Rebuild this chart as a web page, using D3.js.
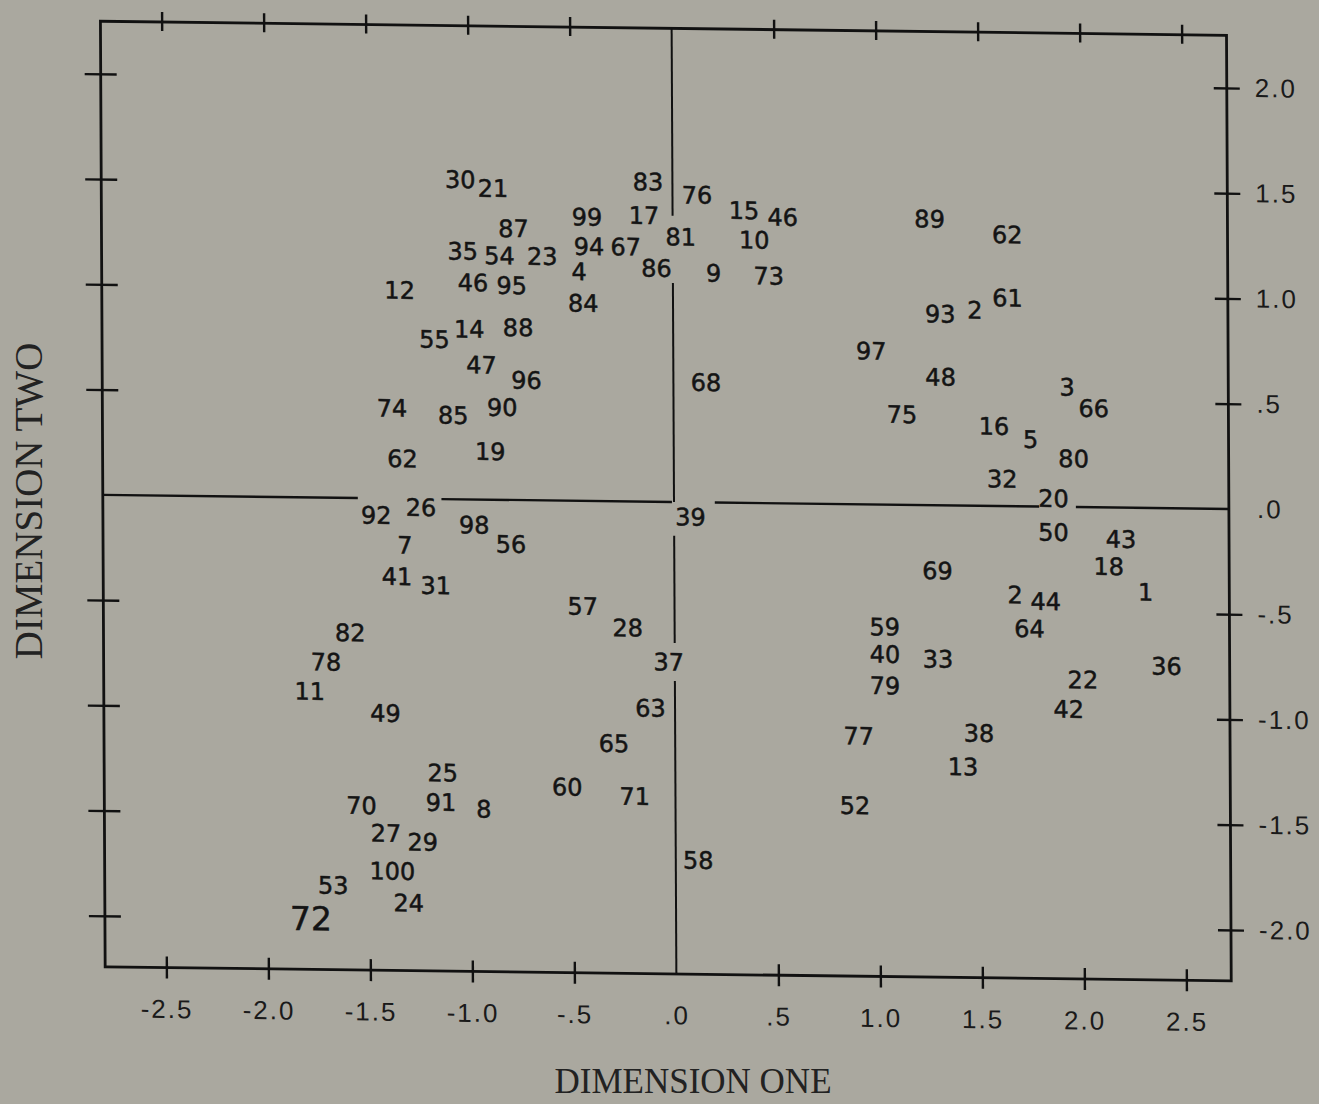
<!DOCTYPE html>
<meta charset="utf-8">
<title>Dimension one vs dimension two</title>
<body>
<script src="https://cdn.jsdelivr.net/npm/d3@7"></script>
<style>
html, body {
    margin: 0;
    background: #aaa89f;
}

svg {
    display: block;
}

.point {
    font-family: "DejaVu Sans", sans-serif;
    fill: #141414;
    stroke: #141414;
    stroke-width: 0.5px;
}

.tick text {
    font-family: "Liberation Sans", sans-serif;
    font-size: 26px;
    letter-spacing: 2px;
    fill: #1a1a1a;
}

.title {
    font-family: "Liberation Serif", serif;
    fill: #222;
}
</style>
<script>
var width = 1319,
    height = 1104;

// one entry per stimulus: its number, then its two coordinates
var pointIds = ["30", "21", "83", "87", "99", "17", "35", "54", "23", "94",
                "67", "4", "86", "46", "95", "12", "84", "55", "14", "88",
                "47", "96", "74", "85", "90", "19", "62",
                "76", "15", "46", "81", "10", "9", "73", "68", "89",
                "62", "93", "2", "61", "97", "48", "3", "66", "75",
                "16", "5", "80", "32", "20",
                "39", "50", "43", "18", "69", "1", "2", "44", "59",
                "64", "40", "33", "36", "22", "79", "42", "77", "38",
                "13", "52", "58",
                "92", "26", "98", "56", "7", "41", "31", "57", "28",
                "82", "78", "37", "11", "49", "63", "65", "25", "60",
                "71", "70", "91", "8", "27", "29", "100", "53", "24", "72"];

var dimOne = [-1.04, -0.88, -0.12, -0.78, -0.42, -0.14, -1.03, -0.85, -0.64, -0.41,
              -0.23, -0.46, -0.08, -0.98, -0.79, -1.34, -0.44, -1.17, -1.00, -0.76,
              -0.94, -0.72, -1.38, -1.08, -0.84, -0.90, -1.33,
              0.12, 0.35, 0.54, 0.04, 0.40, 0.20, 0.47, 0.16, 1.26,
              1.64, 1.31, 1.48, 1.64, 0.97, 1.31, 1.93, 2.06, 1.12,
              1.57, 1.75, 1.96, 1.61, 1.86,
              0.08, 1.86, 2.19, 2.13, 1.29, 2.31, 1.67, 1.82, 1.03,
              1.74, 1.03, 1.29, 2.41, 2.00, 1.03, 1.93, 0.90, 1.49,
              1.41, 0.88, 0.11,
              -1.46, -1.24, -0.98, -0.80, -1.32, -1.36, -1.17, -0.45, -0.23,
              -1.59, -1.71, -0.03, -1.79, -1.42, -0.12, -0.30, -1.14, -0.53,
              -0.20, -1.54, -1.15, -0.94, -1.42, -1.24, -1.39, -1.68, -1.31, -1.79];

var dimTwo = [1.52, 1.48, 1.52, 1.29, 1.35, 1.36, 1.18, 1.16, 1.16, 1.21,
              1.21, 1.09, 1.11, 1.03, 1.02, 0.99, 0.94, 0.76, 0.81, 0.82,
              0.64, 0.57, 0.43, 0.40, 0.44, 0.23, 0.19,
              1.46, 1.39, 1.36, 1.26, 1.25, 1.09, 1.08, 0.57, 1.36,
              1.29, 0.91, 0.93, 0.99, 0.73, 0.61, 0.57, 0.47, 0.43,
              0.38, 0.32, 0.23, 0.13, 0.04,
              -0.07, -0.12, -0.15, -0.28, -0.31, -0.40, -0.42, -0.45, -0.58,
              -0.58, -0.71, -0.73, -0.75, -0.82, -0.86, -0.96, -1.10, -1.08,
              -1.24, -1.43, -1.70,
              -0.08, -0.04, -0.12, -0.21, -0.22, -0.37, -0.41, -0.50, -0.60,
              -0.64, -0.78, -0.76, -0.92, -1.02, -0.98, -1.15, -1.30, -1.36,
              -1.40, -1.46, -1.44, -1.47, -1.59, -1.63, -1.77, -1.84, -1.92, -2.00];

var xTicks = [-2.5, -2, -1.5, -1, -0.5, 0, 0.5, 1, 1.5, 2, 2.5],
    xTickLabels = ["-2.5", "-2.0", "-1.5", "-1.0", "-.5", ".0", ".5", "1.0", "1.5", "2.0", "2.5"];

var yTicks = [2, 1.5, 1, 0.5, 0, -0.5, -1, -1.5, -2],
    yTickLabels = ["2.0", "1.5", "1.0", ".5", ".0", "-.5", "-1.0", "-1.5", "-2.0"];

// extent of the frame and the broken lines through the origin
var xExtent = [-2.80, 2.72],
    yExtent = [-2.242, 2.25];
var zeroLineOne = [[-2.80, -1.55], [-1.14, -0.01], [0.20, 1.79], [1.97, 2.72]],
    zeroLineTwo = [[2.25, 1.36], [1.04, 0.0], [-0.16, -0.67], [-0.85, -2.242]];

var x = d3.scaleLinear().domain([-2.5, 2.5]).range([164, 1184]),
    y = d3.scaleLinear().domain([-2, 2]).range([923, 81]);

var svg = d3.select("body").append("svg")
    .attr("width", width)
    .attr("height", height)
    .style("background", "#aaa89f");

// the scanned page is a little skewed
var plot = svg.append("g")
    .attr("transform", "matrix(1, 0.0125, 0.005, 1, -2.51, -8.43)");

plot.append("rect")
    .attr("x", x(xExtent[0]))
    .attr("y", y(yExtent[1]))
    .attr("width", x(xExtent[1]) - x(xExtent[0]))
    .attr("height", y(yExtent[0]) - y(yExtent[1]))
    .attr("fill", "none")
    .attr("stroke", "#111")
    .attr("stroke-width", 2.8);

function styleAxis(g) {
    g.select(".domain").remove();
    g.attr("color", "#111");
    g.selectAll(".tick line").attr("stroke-width", 2.4);
    g.selectAll(".tick").filter(function(d) { return d === 0; }).select("line").remove();
}

plot.append("g")
    .attr("transform", "translate(0," + (y(yExtent[0]) - 11) + ")")
    .call(d3.axisBottom(x)
        .tickValues(xTicks)
        .tickSize(22)
        .tickPadding(21)
        .tickFormat(function(d, i) { return xTickLabels[i]; }))
    .call(styleAxis);

plot.append("g")
    .attr("transform", "translate(0," + (y(yExtent[1]) + 9) + ")")
    .call(d3.axisTop(x).tickValues(xTicks).tickSize(19).tickFormat(""))
    .call(styleAxis);

plot.append("g")
    .attr("transform", "translate(" + (x(xExtent[0]) + 16) + ",0)")
    .call(d3.axisLeft(y).tickValues(yTicks).tickSize(32).tickFormat(""))
    .call(styleAxis);

plot.append("g")
    .attr("transform", "translate(" + (x(xExtent[1]) - 13) + ",0)")
    .call(d3.axisRight(y)
        .tickValues(yTicks)
        .tickSize(26)
        .tickPadding(15)
        .tickFormat(function(d, i) { return yTickLabels[i]; }))
    .call(styleAxis);

plot.selectAll("line.zero-one")
    .data(zeroLineOne)
  .enter().append("line")
    .attr("class", "zero-one")
    .attr("x1", function(d) { return x(d[0]); })
    .attr("x2", function(d) { return x(d[1]); })
    .attr("y1", y(0))
    .attr("y2", y(0))
    .attr("stroke", "#111")
    .attr("stroke-width", 2.4);

plot.selectAll("line.zero-two")
    .data(zeroLineTwo)
  .enter().append("line")
    .attr("class", "zero-two")
    .attr("x1", x(0))
    .attr("x2", x(0))
    .attr("y1", function(d) { return y(d[0]); })
    .attr("y2", function(d) { return y(d[1]); })
    .attr("stroke", "#111")
    .attr("stroke-width", 2);

var points = pointIds.map(function(id, i) {
    return {id: id, one: dimOne[i], two: dimTwo[i]};
});

plot.selectAll("text.point")
    .data(points)
  .enter().append("text")
    .attr("class", "point")
    .attr("x", function(d) { return x(d.one); })
    .attr("y", function(d) { return y(d.two); })
    .attr("dy", "0.36em")
    .attr("text-anchor", "middle")
    .attr("font-size", function(d) { return d.id === "72" ? 33 : 24; })
    .text(function(d) { return d.id; });

svg.append("text")
    .attr("class", "title")
    .attr("x", 693)
    .attr("y", 1093)
    .attr("text-anchor", "middle")
    .attr("font-size", 35)
    .text("DIMENSION ONE");

svg.append("text")
    .attr("class", "title")
    .attr("transform", "translate(42,501) rotate(-90)")
    .attr("text-anchor", "middle")
    .attr("font-size", 39)
    .text("DIMENSION TWO");
</script>
